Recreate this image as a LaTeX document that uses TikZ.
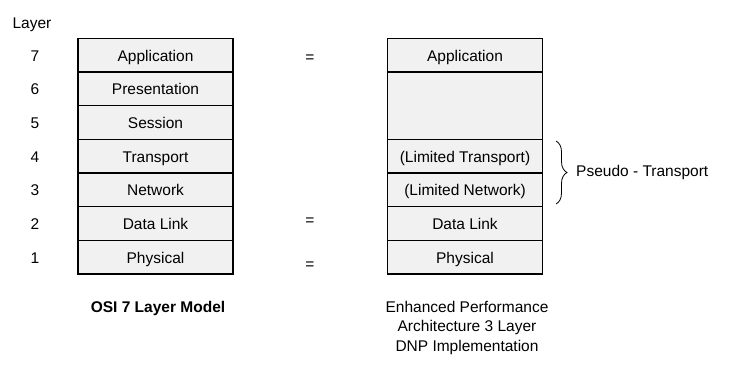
\documentclass[tikz,border=0pt]{standalone}
\usepackage{fontspec}
\setmainfont{Liberation Sans}
\usetikzlibrary{decorations.pathreplacing}
\definecolor{boxgray}{RGB}{241,241,241}
\begin{document}
\begin{tikzpicture}[x=1pt,y=-1pt,
  font=\fontsize{15.5}{19.5}\selectfont,
  layerbox/.style={draw=black, line width=1.3pt, fill=boxgray, minimum width=155pt, minimum height=33.7pt, inner sep=0pt, outer sep=0pt, text height=12pt, text depth=0pt},
  numlabel/.style={inner sep=0pt, text height=12pt, text depth=0pt},
  eqlabel/.style={inner sep=0pt}]
\useasboundingbox (0,0) rectangle (739,370);
% left stack
\node[layerbox] (l7) at (155.5,55.0) {Application};
\node[layerbox] (l6) at (155.5,88.7) {Presentation};
\node[layerbox] (l5) at (155.5,122.4) {Session};
\node[layerbox] (l4) at (155.5,156.1) {Transport};
\node[layerbox] (l3) at (155.5,189.8) {Network};
\node[layerbox] (l2) at (155.5,223.5) {Data Link};
\node[layerbox] (l1) at (155.5,257.2) {Physical};
% right stack
\node[layerbox] (r7) at (465,55.0) {Application};
\node[layerbox, minimum height=67.4pt] (r56) at (465,105.55) {};
\node[layerbox] (r4) at (465,156.1) {(Limited Transport)};
\node[layerbox] (r3) at (465,189.8) {(Limited Network)};
\node[layerbox] (r2) at (465,223.5) {Data Link};
\node[layerbox] (r1) at (465,257.2) {Physical};
% layer numbers
\node[numlabel] (layer) at (32,22) {Layer};
\node[numlabel] (n7) at (35,55.0) {7};
\node[numlabel] (n6) at (35,88.7) {6};
\node[numlabel] (n5) at (35,122.4) {5};
\node[numlabel] (n4) at (35,156.1) {4};
\node[numlabel] (n3) at (35,189.8) {3};
\node[numlabel] (n2) at (35,223.5) {2};
\node[numlabel] (n1) at (35,257.2) {1};
% equals
\node[eqlabel] (e7) at (310,59) {=};
\node[eqlabel] (e2) at (310,222) {=};
\node[eqlabel] (e1) at (310,266) {=};
% brace
\coordinate (btop) at (556,141);
\coordinate (bbot) at (556,204);
\draw[line width=0.8pt, decorate, decoration={brace, amplitude=11pt}] (btop) -- (bbot);
\node[anchor=west, inner sep=0pt] (pseudo) at (576,172) {Pseudo - Transport};
% captions
\node[font=\fontsize{15.5}{19.5}\selectfont\bfseries] (osi) at (158,308) {OSI 7 Layer Model};
\node[align=center, inner sep=0pt] (epa) at (467,327.5) {Enhanced Performance\\Architecture 3 Layer\\DNP Implementation};
\end{tikzpicture}
\end{document}
